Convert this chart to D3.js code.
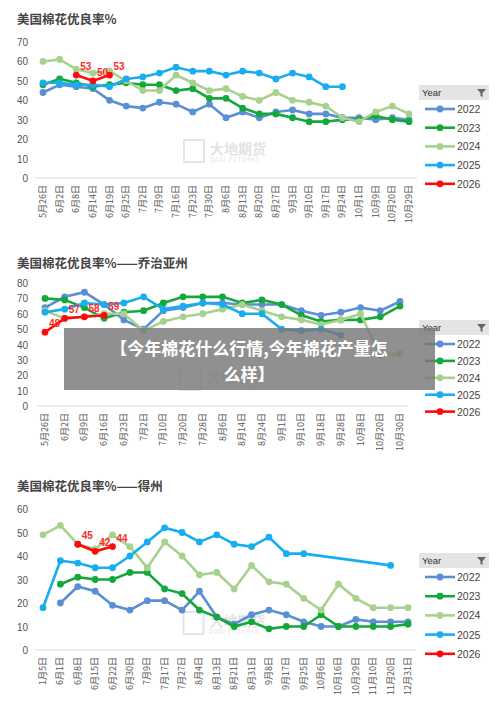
<!DOCTYPE html>
<html><head><meta charset="utf-8">
<script src="https://cdn.jsdelivr.net/npm/d3@7"></script>
<style>body{margin:0;background:#fff}svg{font-family:"Noto Sans CJK SC","DejaVu Sans",sans-serif}</style>
</head><body>
<svg id="main" width="500" height="720"></svg>
<script>
"use strict";
const years = ["2022", "2023", "2024", "2025", "2026"];
const colors = ["#5b8fd5", "#14a83b", "#a8d18d", "#18adee", "#ff0a0a"];

// chart 1: US total
const us_dates = ["5月26日","6月2日","6月8日","6月14日","6月19日","6月25日","7月2日","7月9日","7月16日","7月23日","7月30日","8月6日","8月13日","8月20日","8月27日","9月3日","9月10日","9月17日","9月24日","10月1日","10月9日","10月20日","10月29日"];
const us_2022 = [44,48,47,46,40,37,36,39,38,34,38,31,34,31,34,35,33,33,31,31,30,31,30];
const us_2023 = [48,51,49,47,48,49,48,48,45,46,41,41,36,33,33,31,29,29,30,30,32,30,29];
const us_2024 = [60,61,56,54,55,50,45,45,53,49,45,46,42,40,44,40,39,37,31,29,34,37,33];
const us_2025 = [49,49,48,48,47,51,52,54,57,55,55,53,55,54,51,54,52,47,47,null,null,null,null];
const us_2026 = [null,null,53,50,53];

// chart 2: Georgia
const ga_dates = ["5月26日","6月2日","6月9日","6月16日","6月23日","7月2日","7月10日","7月20日","7月28日","8月6日","8月14日","8月24日","9月1日","9月10日","9月18日","9月28日","10月8日","10月20日","10月30日"];
const ga_2022 = [64,71,74,66,56,50,62,64,67,67,66,66,66,62,59,61,64,62,68];
const ga_2023 = [70,69,64,57,61,62,67,71,71,71,67,69,66,59,55,56,56,58,65];
const ga_2024 = [62,57,58,60,60,49,55,58,60,63,66,62,58,56,53,56,60,33,34];
const ga_2025 = [61,63,67,66,67,71,63,65,67,66,60,60,50,49,50,46];
const ga_2026 = [48,57,58,59];

// chart 3: Texas
const tx_dates = ["1月5日","6月1日","6月8日","6月15日","6月22日","6月30日","7月9日","7月17日","7月27日","8月4日","8月13日","8月21日","8月31日","9月8日","9月17日","9月25日","10月6日","10月16日","10月29日","11月10日","11月20日","12月31日"];
const tx_2022 = [null,20,27,25,19,17,21,21,17,25,14,11,15,17,15,12,10,10,13,12,12,12];
const tx_2023 = [null,28,31,30,30,33,33,26,24,17,14,10,12,9,10,10,15,10,10,10,10,11];
const tx_2024 = [49,53,45,43,49,44,35,46,40,32,33,26,36,29,28,22,17,28,22,18,18,18];
const tx_2025 = [18,38,37,35,35,40,46,52,50,46,49,45,44,48,41,41,null,null,null,null,36,null];
const tx_2026 = [null,null,45,42,44];

const svg = d3.select("#main");

function drawChart(c) {
    const g = svg.append("g");
    g.append("text").attr("x", 17).attr("y", c.titleY).attr("font-size", 12.5)
        .attr("font-weight", "bold").attr("fill", "#444").text(c.title);
    const x = d3.scalePoint().domain(c.dates).range([c.x0, c.x1]);
    const y = d3.scaleLinear().domain([0, c.ymax]).range([c.y0, c.y1]);
    g.append("line").attr("x1", c.x0 - 8).attr("x2", c.x1 + 8)
        .attr("y1", y(0)).attr("y2", y(0)).attr("stroke", "#d9d9d9");
    g.selectAll(".yt").data(d3.range(0, c.ymax + 1, 10)).join("text")
        .attr("x", 28).attr("y", d => y(d) + 4).attr("text-anchor", "end")
        .attr("font-size", 10).attr("fill", "#555").attr("font-family", "Liberation Sans").text(d => d);
    g.selectAll(".xt").data(c.dates).join("text")
        .attr("transform", d => `translate(${x(d) + 3},${y(0) + 7}) rotate(-90)`)
        .attr("text-anchor", "end").attr("font-size", 9).attr("fill", "#555").text(d => d);
    // watermark
    const wx = (c.x0 + c.x1) / 2 + 20, wy = y(0) - 26;
    g.append("rect").attr("x", wx - 62).attr("y", wy - 12).attr("width", 20).attr("height", 22)
        .attr("fill", "none").attr("stroke", "#dfe6f0").attr("stroke-width", 2);
    g.append("text").attr("x", wx - 36).attr("y", wy + 2).attr("font-size", 14).attr("fill", "#e3e3e3")
        .attr("font-weight", "bold").text("大地期货");
    g.append("text").attr("x", wx - 36).attr("y", wy + 10).attr("font-size", 5.5).attr("fill", "#e3e3e3")
        .attr("letter-spacing", 1).text("DADI FUTURES");

    const line = d3.line().x(d => x(d[0])).y(d => y(d[1]));
    c.series.forEach((s, i) => {
        const pts = s.map((v, j) => [c.dates[j], v]).filter(d => d[1] != null);
        g.append("path").attr("d", line(pts)).attr("fill", "none")
            .attr("stroke", colors[i]).attr("stroke-width", 2.6);
        g.selectAll(null).data(pts).join("circle")
            .attr("cx", d => x(d[0])).attr("cy", d => y(d[1])).attr("r", 3.4).attr("fill", colors[i]);
        if (i === 4) {
            g.selectAll(null).data(pts).join("text")
                .attr("x", d => x(d[0]) + 4).attr("y", d => y(d[1]) - 5)
                .attr("font-size", 10).attr("font-weight", "bold").attr("fill", "#ff2a2a")
                .attr("font-family", "Liberation Sans").text(d => d[1]);
        }
    });
    // legend
    const lx = 419;
    g.append("rect").attr("x", lx).attr("y", c.legY).attr("width", 70).attr("height", 15).attr("fill", "#e4e4e4");
    g.append("text").attr("x", lx + 3).attr("y", c.legY + 11).attr("font-size", 9.5).attr("fill", "#333")
        .attr("font-family", "Liberation Sans").text("Year");
    g.append("path").attr("d", `M${lx + 58},${c.legY + 4}h9l-3.5,4v4l-2,-1v-3z`).attr("fill", "#666");
    years.forEach((yr, i) => {
        const ly = c.legY + 24 + i * c.legStep;
        g.append("line").attr("x1", lx + 6).attr("x2", lx + 36).attr("y1", ly).attr("y2", ly)
            .attr("stroke", colors[i]).attr("stroke-width", 2.6);
        g.append("circle").attr("cx", lx + 21).attr("cy", ly).attr("r", 3.4).attr("fill", colors[i]);
        g.append("text").attr("x", lx + 38).attr("y", ly + 4).attr("font-size", 10.5).attr("fill", "#444")
            .attr("font-family", "Liberation Sans").text(yr);
    });
}

drawChart({title: "美国棉花优良率%", titleY: 24, dates: us_dates, ymax: 70, x0: 43, x1: 409, y0: 178, y1: 42,
    series: [us_2022, us_2023, us_2024, us_2025, us_2026], legY: 85, legStep: 18.7});
drawChart({title: "美国棉花优良率%——乔治亚州", titleY: 268, dates: ga_dates, ymax: 80, x0: 45, x1: 400, y0: 406, y1: 283,
    series: [ga_2022, ga_2023, ga_2024, ga_2025, ga_2026], legY: 320, legStep: 16.9});
drawChart({title: "美国棉花优良率%——得州", titleY: 491, dates: tx_dates, ymax: 60, x0: 43, x1: 408, y0: 650, y1: 509,
    series: [tx_2022, tx_2023, tx_2024, tx_2025, tx_2026], legY: 553, legStep: 19.2});

// overlay banner
svg.append("rect").attr("x", 64).attr("y", 328).attr("width", 371).attr("height", 62).attr("fill", "rgba(120,120,120,0.82)");
svg.append("text").attr("x", 249).attr("y", 355).attr("text-anchor", "middle").attr("font-size", 17)
    .attr("font-weight", "bold").attr("fill", "#fff").text("【今年棉花什么行情,今年棉花产量怎");
svg.append("text").attr("x", 249).attr("y", 381).attr("text-anchor", "middle").attr("font-size", 17)
    .attr("font-weight", "bold").attr("fill", "#fff").text("么样】");
</script>
</body></html>
